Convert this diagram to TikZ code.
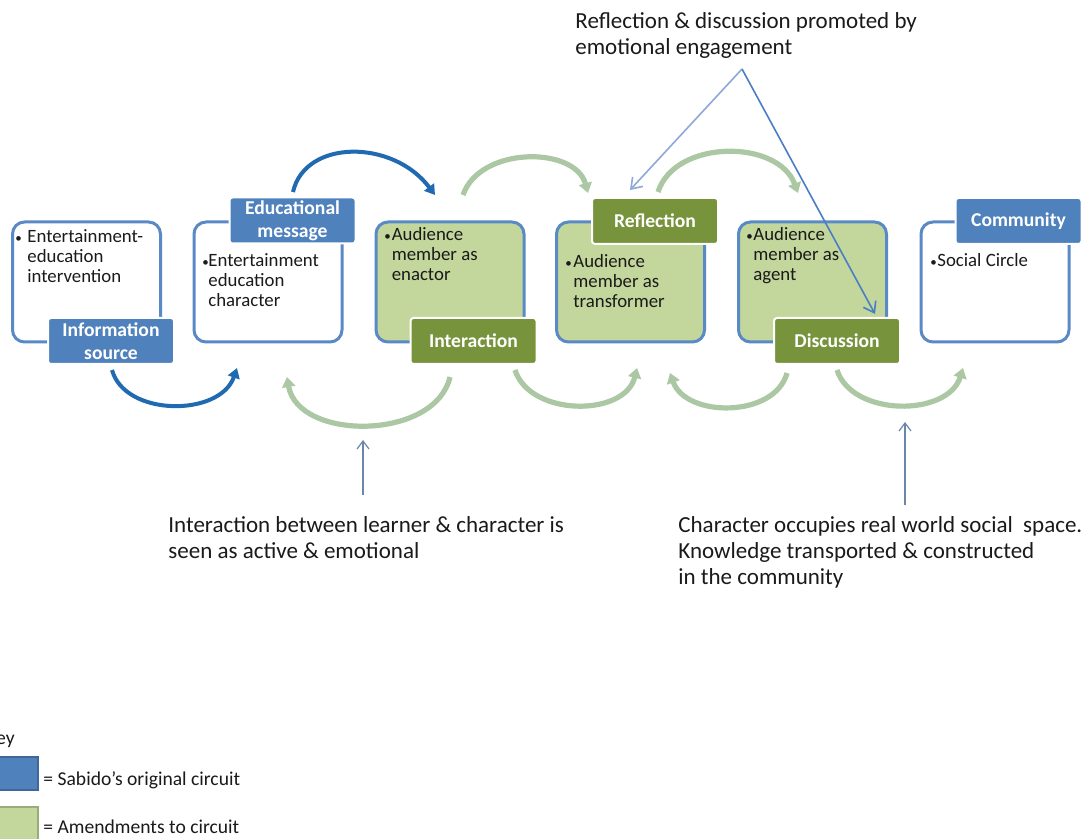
\documentclass[tikz,border=0pt]{standalone}
\usepackage{fontspec}
\setmainfont{Carlito}
\usetikzlibrary{arrows.meta}
\definecolor{bluefill}{HTML}{4F81BD}
\definecolor{blueline}{HTML}{5A8AC6}
\definecolor{greenfill}{HTML}{77933C}
\definecolor{lightgreen}{HTML}{C3D69B}
\definecolor{arcgreen}{HTML}{ABC7A3}
\definecolor{arcblue}{HTML}{1F6AB0}
\definecolor{callblue}{HTML}{8EA8D8}
\definecolor{calldark}{HTML}{4A7EC4}
\definecolor{thinblue}{HTML}{6A86A8}
\definecolor{textdark}{HTML}{1A1A1A}
\newcommand{\blt}[2]{\parbox[t]{80pt}{\hangindent=#1\hangafter=1\noindent\makebox[#1][l]{\raisebox{0.1ex}{\fontsize{6.5}{6.5}\selectfont\textbullet}}#2}}
\newcommand{\ctx}[2]{\parbox[t]{#1}{\raggedright #2}}
\begin{document}
\begin{tikzpicture}[x=0.5pt,y=0.5pt,
  box/.style={draw=blueline, line width=1.5pt, rounded corners=6pt, minimum width=74pt, minimum height=60pt, inner sep=0pt, fill=white},
  gbox/.style={box, fill=lightgreen},
  lab/.style={draw=white, line width=1pt, rounded corners=1.5pt, minimum width=63pt, minimum height=23pt, inner sep=0pt, text=white, font=\bfseries\fontsize{9.8}{11.5}\selectfont, align=center},
  blab/.style={lab, fill=bluefill},
  glab/.style={lab, fill=greenfill},
  btext/.style={anchor=base west, inner sep=0pt, text=textdark, font=\fontsize{9.4}{9.9}\selectfont},
  ctext/.style={anchor=base west, inner sep=0pt, text=textdark, font=\fontsize{11.5}{13}\selectfont},
  ktext/.style={anchor=base west, inner sep=0pt, text=textdark, font=\fontsize{9.8}{12}\selectfont},
  barc/.style={draw=arcblue, line width=2pt, -{Triangle[length=5pt,width=6pt]}},
  garc/.style={draw=arcgreen, line width=2.6pt, -{Triangle[length=5pt,width=6.5pt]}},
  call/.style={line width=0.8pt, -{Straight Barb[length=5pt,width=7pt]}},
  thin/.style={draw=thinblue, line width=0.6pt, -{Straight Barb[length=4pt,width=6pt]}}
]
\useasboundingbox (0,0) rectangle (1092,-839);
\fill[white] (0,0) rectangle (1092,-839);

% main boxes
\node[box]  (b1) at (86.5,-282) {};
\node[box]  (b2) at (268,-282) {};
\node[gbox] (b3) at (450,-282) {};
\node[gbox] (b4) at (630.5,-282) {};
\node[gbox] (b5) at (812.5,-282) {};
\node[box]  (b6) at (995,-282) {};

% box texts
\node[btext] (t1) at (15,-243) {\blt{6pt}{Entertainment-\\education\\intervention}};
\node[btext] (t2) at (202,-267) {\blt{3pt}{Entertainment\\education\\character}};
\node[btext] (t3) at (384,-241) {\blt{3.7pt}{Audience\\member as\\enactor}};
\node[btext] (t4) at (565,-268) {\blt{4pt}{Audience\\member as\\transformer}};
\node[btext] (t5) at (746,-241) {\blt{3.5pt}{Audience\\member as\\agent}};
\node[btext] (t6) at (930,-267) {\blt{3.5pt}{Social Circle}};

% labels
\node[blab] (l1) at (111,-341) {Information\\source};
\node[blab] (l2) at (292.5,-220.5) {Educational\\message};
\node[glab] (l3) at (473.5,-341) {Interaction};
\node[glab] (l4) at (655,-221) {Reflection};
\node[glab] (l5) at (837,-341) {Discussion};
\node[blab] (l6) at (1018.5,-221) {Community};

% arc end points
\coordinate (a1s) at (293,-192); \coordinate (a1e) at (435,-195);
\coordinate (a2s) at (463,-195); \coordinate (a2e) at (588,-193);
\coordinate (a3s) at (658,-192); \coordinate (a3e) at (798,-193);
\coordinate (a4s) at (112,-370); \coordinate (a4e) at (237,-368);
\coordinate (a5s) at (450,-377); \coordinate (a5e) at (287,-377);
\coordinate (a6s) at (515,-370); \coordinate (a6e) at (637,-368);
\coordinate (a7s) at (787,-373); \coordinate (a7e) at (670,-373);
\coordinate (a8s) at (837,-370); \coordinate (a8e) at (963,-368);

\draw[barc] (a1s) .. controls (305,-139) and (393,-139) .. (a1e);
\draw[garc] (a2s) .. controls (480,-146) and (575,-146) .. (a2e);
\draw[garc] (a3s) .. controls (675,-139) and (778,-139) .. (a3e);
\draw[barc] (a4s) .. controls (125,-417) and (220,-417) .. (a4e);
\draw[garc] (a5s) .. controls (435,-441) and (298,-441) .. (a5e);
\draw[garc] (a6s) .. controls (530,-417) and (625,-417) .. (a6e);
\draw[garc] (a7s) .. controls (775,-418) and (686,-418) .. (a7e);
\draw[garc] (a8s) .. controls (852,-417) and (948,-417) .. (a8e);

% callout texts
\node[ctext] (c3) at (575,-29) {\ctx{200pt}{Reflection \& discussion promoted by\\emotional engagement}};
\node[ctext] (c1) at (168,-532) {\ctx{240pt}{Interaction between learner \& character is\\seen as active \& emotional}};
\node[ctext] (c2) at (678,-532) {\ctx{230pt}{Character occupies real world social\ \ space.\\Knowledge transported \& constructed\\in the community}};

% callout arrows
\coordinate (apex) at (742,-69);
\coordinate (rtip) at (630,-190);
\coordinate (dtip) at (875,-314);
\draw[call, draw=callblue] (apex) -- (rtip);
\draw[call, draw=calldark] (apex) -- (dtip);
\coordinate (u1s) at (363,-495); \coordinate (u1e) at (363,-440);
\coordinate (u2s) at (905,-505); \coordinate (u2e) at (905,-422);
\draw[thin] (u1s) -- (u1e);
\draw[thin] (u2s) -- (u2e);

% key
\node[anchor=base east, inner sep=0pt, text=textdark, font=\fontsize{9.8}{12}\selectfont] (key) at (15,-744) {Key};
\node[draw=bluefill!80!black, line width=0.6pt, fill=bluefill, minimum width=24pt, minimum height=16.5pt, inner sep=0pt] (kb) at (14,-773.5) {};
\node[draw=lightgreen!80!black, line width=0.6pt, fill=lightgreen, minimum width=24pt, minimum height=19pt, inner sep=0pt] (kg) at (14,-826) {};
\node[ktext] (k1) at (43,-785) {= Sabido’s original circuit};
\node[ktext] (k2) at (43,-833) {= Amendments to circuit};
\end{tikzpicture}
\end{document}
